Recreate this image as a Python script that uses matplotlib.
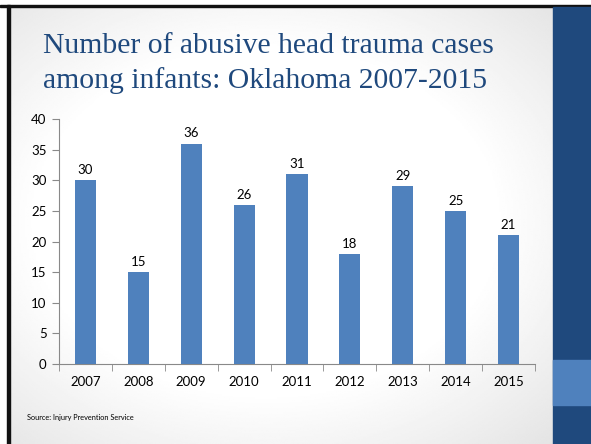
import numpy as np
import matplotlib.pyplot as plt
from matplotlib.patches import Rectangle

years = ['2007', '2008', '2009', '2010', '2011', '2012', '2013', '2014', '2015']
cases = [30, 15, 36, 26, 31, 18, 29, 25, 21]
yticks = [0, 5, 10, 15, 20, 25, 30, 35, 40]

W, H = 591, 444
fig = plt.figure(figsize=(W / 100, H / 100), dpi=100)


def fx(px):
    return px / W


def fy(py):
    return 1 - py / H


# slide background: white with soft grey corners
bg = fig.add_axes([0, 0, 1, 1])
bg.set_axis_off()
xx, yy = np.meshgrid(np.linspace(0, 1, 300), np.linspace(0, 1, 300))
d = np.sqrt(((xx - 0.45) / 0.5) ** 2 + ((yy - 0.5) / 0.5) ** 2) / np.sqrt(2)
shade = 1 - 0.11 * np.clip((d - 0.55) / 0.45, 0, 1)
bg.imshow(shade, cmap='gray', vmin=0, vmax=1, extent=[0, 1, 0, 1],
          origin='upper', aspect='auto')
bg.set_xlim(0, 1)
bg.set_ylim(0, 1)

# white margins outside the black frame
bg.add_patch(Rectangle((0, fy(5)), 1, 1, color='white', zorder=2))
bg.add_patch(Rectangle((0, 0), fx(7), 1, color='white', zorder=2))
# black frame lines
bg.add_patch(Rectangle((0, fy(7)), 1, 2 / H, color='#111111', zorder=3))
bg.add_patch(Rectangle((fx(7), 0), 3 / W, fy(5), color='#111111', zorder=3))
# right side panel
bg.add_patch(Rectangle((fx(553), 0), 1, fy(7), color='#1F497D', zorder=3))
bg.add_patch(Rectangle((fx(553), fy(405)), 1, 45 / H, color='#4F81BD', zorder=4))

fig.text(fx(43), fy(53), 'Number of abusive head trauma cases',
         family='Liberation Serif', fontsize=21.3, color='#1F497D', va='baseline')
fig.text(fx(43), fy(88), 'among infants: Oklahoma 2007-2015',
         family='Liberation Serif', fontsize=21.3, color='#1F497D', va='baseline')

fig.text(fx(27), fy(417), 'Source: Injury Prevention Service',
         family='Lato', fontsize=5.3, color='black', va='center')

ax = fig.add_axes([fx(59), fy(364), fx(535) - fx(59), fy(119) - fy(364)])
ax.patch.set_alpha(0)
x = np.arange(len(years))
ax.bar(x, cases, width=0.4, color='#4F81BD', zorder=3)
for xi, v in zip(x, cases):
    ax.annotate(str(v), (xi, v), xytext=(0, 3), textcoords='offset points',
                ha='center', va='bottom', family='Lato', fontsize=9.5)

ax.set_xlim(-0.5, len(years) - 0.5)
ax.set_ylim(0, 40)
ax.set_yticks(yticks)
ax.set_yticklabels([str(t) for t in yticks], family='Lato', fontsize=9.5)
ax.set_xticks(x)
ax.set_xticklabels(years, family='Lato', fontsize=9.5)
ax.set_xticks(np.arange(-0.5, len(years)), minor=True)
ax.tick_params(axis='x', which='major', length=0, pad=9)
ax.tick_params(axis='x', which='minor', length=5, color='#898989')
ax.tick_params(axis='y', length=5, color='#898989', pad=4)
for s in ['top', 'right']:
    ax.spines[s].set_visible(False)
for s in ['left', 'bottom']:
    ax.spines[s].set_color('#898989')

fig.savefig('out.png', dpi=100)
